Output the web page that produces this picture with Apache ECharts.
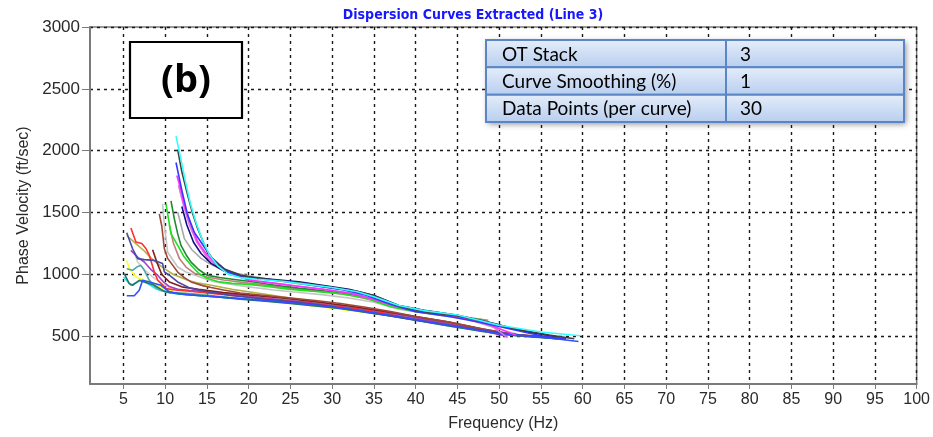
<!DOCTYPE html>
<html>
<head>
<meta charset="utf-8">
<script src="https://cdn.jsdelivr.net/npm/echarts@6/dist/echarts.min.js"></script>
<style>
  html, body { margin: 0; padding: 0; background: #fff; }
  #chart { width: 933px; height: 437px; }
</style>
</head>
<body>
<div id="chart"></div>
<script>
// Axis tick values
const freqTicks = [5, 10, 15, 20, 25, 30, 35, 40, 45, 50, 55, 60, 65, 70, 75, 80, 85, 90, 95, 100];
const velTicks = [500, 1000, 1500, 2000, 2500, 3000];

// Extracted dispersion curves: [frequency (Hz), phase velocity (ft/sec)]
const curveCyan = [[11.3,2118],[11.8,1960],[12.4,1760],[13.0,1580],[13.7,1420],[14.5,1270],[15.3,1160],[16.3,1070],[17.5,1005],[19,975],[21,962],[24,945],[27,920],[30,895],[33,860],[35,820],[38,750],[41,708],[45,672],[50,590],[55,535],[59.7,505]];
const curveBlack = [[11.5,2010],[12.0,1830],[12.7,1640],[13.3,1490],[13.9,1370],[15,1190],[16,1100],[17.1,1045],[19,995],[21,970],[24,950],[27,925],[30,895],[33,865],[35,830],[38,745],[41,700],[45,665],[48,625],[52,560],[56,510],[59,480]];
const curveBlue = [[11.3,1905],[12,1680],[12.7,1480],[13.5,1340],[14.3,1260],[15.5,1140],[17.5,1020],[19.5,980],[22,960],[25,940],[28,910],[31,880],[34,835],[37,760],[40,700],[44,660],[48,610],[52,550],[55,505],[58,480]];
const curveMagenta = [[11.4,1800],[11.9,1680],[12.3,1560],[13.1,1400],[13.9,1265],[15,1160],[16.3,1075],[18,1000],[20,955],[23,930],[26,905],[29,880],[32,850],[35,800],[38,735],[41,700],[45,660],[49,590],[52,510]];
const curveOrchid = [[11.6,1720],[12.2,1560],[12.9,1400],[13.8,1260],[15,1140],[16.5,1050],[18.5,990],[21,945],[24,920],[27,895],[30,870],[33,840],[36,780],[39,725],[42,690],[46,650],[49,590],[51,490]];
const curveNavy = [[12,1550],[12.6,1400],[13.4,1260],[14.3,1170],[15.5,1090],[17,1030],[18.5,995],[20,980],[23,960],[26,940],[29,910],[32,880],[35,830],[38,750],[41,710],[45,670],[49,610],[53,540],[57,495]];
const curveLime = [[10.1,1570],[10.4,1450],[10.7,1330],[11.5,1235],[12.2,1150],[13.1,1075],[14,1010],[15,970],[16.5,940],[18,928],[20,920],[22,905],[25,880],[28,862],[31,845],[34,810],[37,740],[40,700],[44,665],[48.2,631]];
const curveForest = [[10.7,1595],[11.1,1450],[11.5,1330],[11.9,1235],[12.5,1160],[13.1,1100],[14,1040],[15,995],[16.5,975],[18.3,960],[20,945],[23,915],[26,890],[29,868],[32,843],[35,800],[38,735],[41,700],[44,670],[46,650]];
const curveRosy = [[10.5,1400],[11,1250],[11.7,1130],[12.5,1060],[13.5,1010],[15,980],[17,955],[20,930],[23,905],[26,880],[29,860],[32,835],[35,790],[38,735],[41,700],[45,665],[48.7,629]];
const curveSilver = [[9.7,1570],[9.9,1400],[10.3,1180],[11.5,1060],[12.5,1020],[13.5,995],[15,960],[16,940],[18,920],[20,900],[23,875],[26,855],[29,835],[32,810],[35,775],[38,720],[42,680],[46,640],[50,560],[52,520]];
const curveGray = [[11.5,1505],[11.9,1400],[12.3,1290],[13.2,1200],[14.3,1130],[15.5,1080],[16.7,1045],[18.5,1010],[20,990],[23,955],[26,925],[29,900],[32,870],[35,820],[38,745],[41,710],[45,670],[50,560]];
const curveSienna = [[9.3,1490],[9.6,1390],[9.9,1210],[10.3,1130],[11.5,1020],[12.3,975],[13.1,940],[14.5,910],[15.5,895],[17,875],[19,850],[22,830],[25,810],[28,790],[31,765],[34,735],[37,700],[40,660],[44,615],[48,560],[52,515],[55,500]];
const curveMaroon = [[8.5,1200],[9,1100],[9.6,1000],[10.5,940],[12,900],[14,880],[17,855],[20,835],[24,810],[28,780],[32,745],[36,705],[40,660],[44,615],[48,560],[52,510],[55,500]];
const curveRed = [[5.9,1375],[6.5,1262],[7.2,1250],[7.7,1210],[8.1,1155],[8.7,1020],[9.1,955],[10.1,886],[11.5,873],[13,865],[15,850],[18,830],[21,810],[24,790],[27,770],[30,745],[33,720],[36,690],[39,650],[42,615],[46,570],[50,530],[53,505]];
const curveSlate = [[5.4,1337],[6.1,1208],[6.7,1128],[7.5,1120],[8.7,1114],[9.7,1088],[9.9,1021],[10.5,994],[11.5,940],[13,890],[15,860],[18,830],[22,800],[26,775],[30,740],[34,700],[38,655],[42,610],[46,570],[50,530],[54,500],[57,480]];
const curveOlive = [[5.4,1315],[6.5,1250],[7.5,1190],[8.5,1120],[9.9,1047],[11,1000],[12.7,953],[14,930],[15.5,913],[18,880],[21,850],[24,820],[27,790],[30,760],[33,730],[36,700],[40,650],[44,600],[48,550],[52,510],[55,495]];
const curvePurple = [[5.9,1195],[6.7,1140],[7.5,1101],[8.3,1040],[9.1,994],[9.8,940],[10.5,902],[11.5,880],[13,870],[15,860],[18,840],[21,815],[24,795],[27,775],[30,750],[33,725],[36,700],[39,665],[42,625],[46,575],[51,500]];
const curveTeal = [[5.4,1047],[6.1,1034],[6.6,1060],[7.1,1074],[7.5,1034],[8.1,953],[8.8,900],[9.5,870],[11,855],[13,845],[16,825],[19,805],[22,790],[25,770],[28,750],[31,725],[34,695],[37,665],[40,630],[44,585],[48,545],[51,515],[54,495]];
const curveYellow = [[5.4,1114],[5.7,1047],[6.5,980],[7.5,953],[8.7,927],[10,880],[11.5,855],[14,835],[17,820],[20,800],[23,780],[26,760],[29,735],[32,710],[35,685],[38,655],[41,620],[45,575],[50,515]];
const curveDarkTeal = [[5.1,1007],[5.7,927],[6.1,913],[6.9,953],[7.5,940],[8.7,913],[10,860],[11.5,845],[13,835],[16,820],[19,800],[22,785],[25,765],[28,745],[31,725],[34,695],[37,665],[40,630],[44,585],[48,540],[52,505],[56,485]];
const curveRoyal = [[5.4,828],[6.3,828],[6.9,873],[7.3,953],[8.1,940],[9.5,913],[10.5,860],[12,840],[14,830],[17,815],[20,800],[23,785],[26,765],[29,745],[32,720],[35,690],[38,660],[41,625],[45,580],[50,520],[55,495],[59.5,458]];
const curveAqua = [[5,980],[5.9,913],[7.1,953],[7.9,927],[9,880],[10.5,850],[12,840],[15,825],[18,810],[21,795],[24,780],[27,760],[30,740],[33,715],[36,685],[39,650],[42,615],[46,570],[50,530],[54,500],[58,475]];
const curveLightGray = [[6.3,1182],[6.7,1101],[7.5,1040],[8.5,980],[9.5,930],[10.5,895],[12,875],[14,860],[17,845],[20,830],[23,810],[26,790],[29,770],[32,745],[35,715],[38,680],[41,645],[45,600],[49,550],[52,505]];

const curveList = [
  curveLightGray, curveSilver, curveGray, curveYellow, curveOlive, curveAqua, curveTeal, curveDarkTeal,
  curvePurple, curveMaroon, curveSienna, curveRosy, curveRed, curveSlate, curveRoyal,
  curveForest, curveLime, curveOrchid, curveMagenta, curveNavy, curveBlue, curveBlack, curveCyan
];
const curveColors = [
  '#cfcfcf', '#c4c4c4', '#a8a8a8', '#ffff20', '#b4b048', '#20e8e8', '#50a8a8', '#207870',
  '#a040c8', '#802020', '#a04838', '#c08080', '#ff3030', '#4848a8', '#3050ff',
  '#208a30', '#20e020', '#e070e0', '#ff30ff', '#101080', '#3838ff', '#404040', '#30ffff'
];

// Statistics table shown over the plot
const tableRows = [
  ['OT Stack', '3'],
  ['Curve Smoothing (%)', '1'],
  ['Data Points (per curve)', '30']
];

const chart = echarts.init(document.getElementById('chart'), null, { renderer: 'canvas' });

const gridDash = { color: '#1a1a1a', width: 1.4, type: [3, 4] };
const plainNumber = v => String(v);

const series = curveList.map((pts, i) => ({
  type: 'line',
  data: pts,
  showSymbol: false,
  symbol: 'none',
  silent: true,
  lineStyle: { color: curveColors[i], width: 1.6 },
  z: 3
}));

// Overlay: "(b)" panel label and the settings table
const tbl = { x: 486, y: 40, w: 418, h: 82, split: 240 };
const rowH = tbl.h / tableRows.length;
const tableFont = '19px Lato, "Liberation Sans", sans-serif';
const graphics = [
  { type: 'rect', shape: { x: 130, y: 42, width: 112, height: 76 },
    style: { fill: '#fff', stroke: '#000', lineWidth: 2.2 }, z: 100 },
  { type: 'text', x: 186, y: 81,
    style: { text: '(b)', font: 'bold 38px "Open Sans", "Liberation Sans", sans-serif', fill: '#000',
             textAlign: 'center', textVerticalAlign: 'middle' }, z: 101 },
  { type: 'rect', shape: { x: tbl.x, y: tbl.y, width: tbl.w, height: tbl.h },
    style: { fill: '#d5e2f5', shadowBlur: 6, shadowColor: 'rgba(0,0,0,0.45)', shadowOffsetX: 2, shadowOffsetY: 2 }, z: 100 }
];
tableRows.forEach((row, r) => {
  const y0 = tbl.y + r * rowH;
  graphics.push({ type: 'rect', shape: { x: tbl.x, y: y0, width: tbl.w, height: rowH },
    style: { fill: new echarts.graphic.LinearGradient(0, 0, 0, 1, [
      { offset: 0, color: '#e6eefa' }, { offset: 1, color: '#b7cdef' }]),
      stroke: '#5b86c5', lineWidth: 2 }, z: 101 });
  graphics.push({ type: 'text', x: tbl.x + 16, y: y0 + rowH / 2 + 1,
    style: { text: row[0], font: tableFont, fill: '#000', textVerticalAlign: 'middle' }, z: 102 });
  graphics.push({ type: 'text', x: tbl.x + tbl.split + 14, y: y0 + rowH / 2 + 1,
    style: { text: row[1], font: tableFont, fill: '#000', textVerticalAlign: 'middle' }, z: 102 });
});
graphics.push({ type: 'line', shape: { x1: tbl.x + tbl.split, y1: tbl.y, x2: tbl.x + tbl.split, y2: tbl.y + tbl.h },
  style: { stroke: '#5b86c5', lineWidth: 2 }, z: 103 });

chart.setOption({
  animation: false,
  backgroundColor: '#fff',
  title: {
    text: 'Dispersion Curves Extracted (Line 3)',
    left: 468, top: 3, textAlign: 'center',
    textStyle: { color: '#1818ff', fontSize: 14, fontWeight: 'bold',
                 fontFamily: '"Liberation Sans Narrow", "DejaVu Sans Condensed", "Liberation Sans", sans-serif' }
  },
  grid: { left: 90, right: 15, top: 27, bottom: 51, show: true, borderColor: '#7a7a7a', borderWidth: 1.5 },
  xAxis: {
    type: 'value', min: 1, max: 100,
    name: 'Frequency (Hz)', nameLocation: 'middle', nameGap: 32,
    nameTextStyle: { fontSize: 16, color: '#2a2a2a', fontFamily: '"Liberation Sans", sans-serif' },
    axisLine: { show: true, onZero: false, lineStyle: { color: '#7a7a7a', width: 2 } },
    axisTick: { show: true, length: 5, lineStyle: { color: '#7a7a7a' }, customValues: freqTicks },
    axisLabel: { customValues: freqTicks, formatter: plainNumber, color: '#2a2a2a', fontSize: 16, margin: 8,
                 fontFamily: '"Liberation Sans", sans-serif' },
    splitLine: { show: true, lineStyle: gridDash }
  },
  yAxis: {
    type: 'value', min: 115, max: 3000,
    name: 'Phase Velocity (ft/sec)', nameLocation: 'middle', nameGap: 56, nameRotate: 90,
    nameTextStyle: { fontSize: 16, color: '#2a2a2a', fontFamily: '"Liberation Sans", sans-serif' },
    axisLine: { show: true, onZero: false, lineStyle: { color: '#7a7a7a', width: 2 } },
    axisTick: { show: true, length: 8, lineStyle: { color: '#7a7a7a' }, customValues: velTicks },
    axisLabel: { customValues: velTicks, formatter: plainNumber, color: '#2a2a2a', fontSize: 17, margin: 10,
                 fontFamily: '"Liberation Sans", sans-serif' },
    splitLine: { show: true, lineStyle: gridDash }
  },
  series: series,
  graphic: graphics
});
</script>
</body>
</html>
